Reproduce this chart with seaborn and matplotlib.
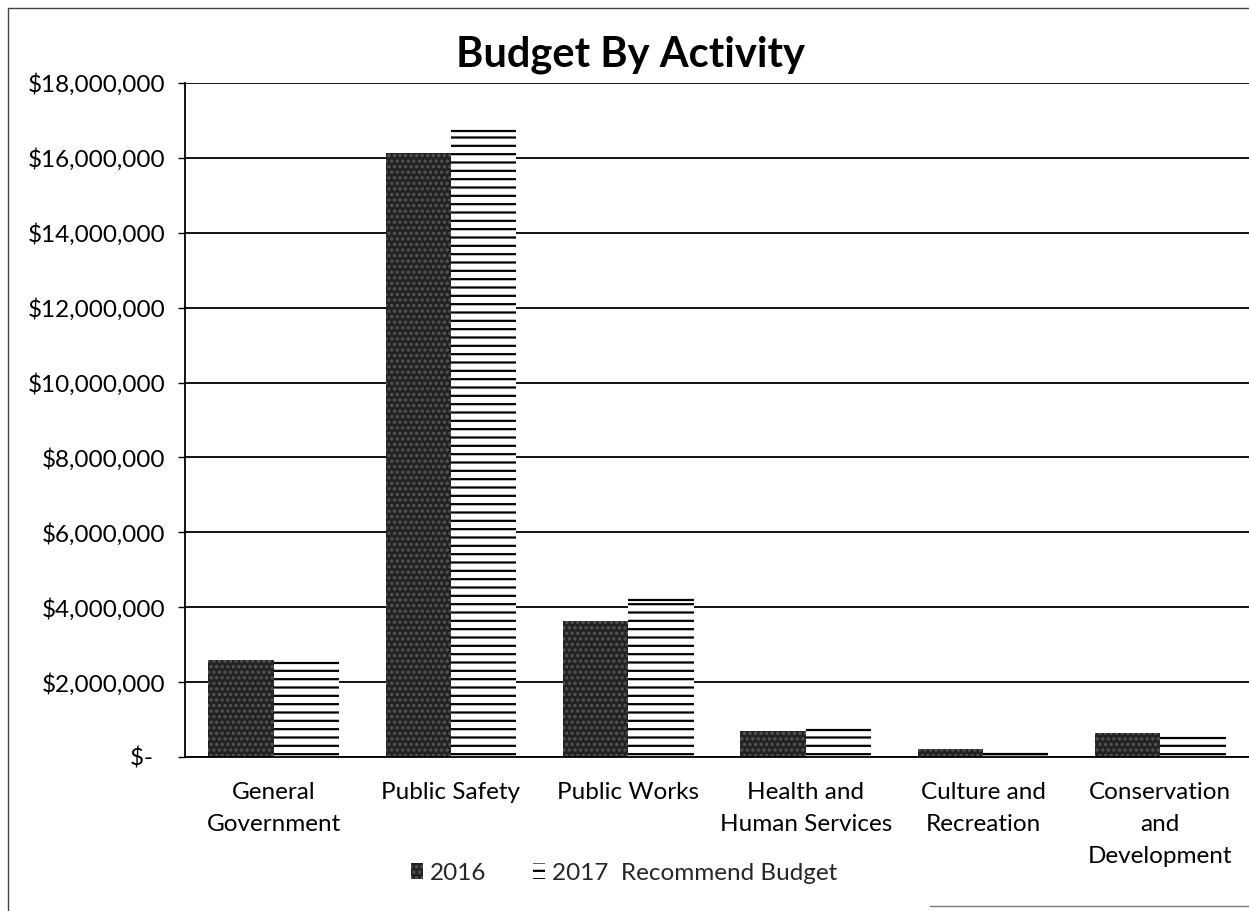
import matplotlib
matplotlib.use("Agg")
import matplotlib.pyplot as plt
from matplotlib.patches import Patch
from matplotlib.lines import Line2D
from matplotlib.ticker import FuncFormatter, MultipleLocator
import seaborn as sns
import pandas as pd

# Budget figures by activity (USD)
activities = [
    "General\nGovernment",
    "Public Safety",
    "Public Works",
    "Health and\nHuman Services",
    "Culture and\nRecreation",
    "Conservation\nand\nDevelopment",
]
budget_2016 = [2_590_000, 16_130_000, 3_630_000, 700_000, 220_000, 640_000]
budget_2017 = [2_520_000, 16_720_000, 4_190_000, 720_000, 80_000, 520_000]
series_names = ["2016", "2017  Recommend Budget"]

df = pd.DataFrame({
    "activity": activities * 2,
    "budget": budget_2016 + budget_2017,
    "series": [series_names[0]] * len(activities) + [series_names[1]] * len(activities),
})

sns.set_theme(style="white")
plt.rcParams["font.family"] = ["Lato", "DejaVu Sans"]
plt.rcParams["hatch.linewidth"] = 1.6

fig = plt.figure(figsize=(12.49, 9.11), dpi=100)
ax = fig.add_axes([185 / 1249, 1 - 757 / 911, 1 - 185 / 1249, (757 - 83) / 911])

sns.barplot(data=df, x="activity", y="budget", hue="series",
            palette=["#222222", "white"], saturation=1, width=0.735,
            legend=False, ax=ax)

dark_fill = dict(facecolor="#222222", edgecolor="#555555", hatch="...", linewidth=0)
lined_fill = dict(facecolor="white", edgecolor="black", hatch="--", linewidth=0)
for bar in ax.containers[0]:
    bar.set(**dark_fill)
for bar in ax.containers[1]:
    bar.set(**lined_fill)
    # cap each striped bar with a line at its value
    ax.plot([bar.get_x(), bar.get_x() + bar.get_width()],
            [bar.get_height(), bar.get_height()], color="black", linewidth=1.6,
            solid_capstyle="butt", zorder=bar.get_zorder() + 0.1)

ax.set_xlim(-0.5, 5.5)
ax.set_ylim(0, 18_000_000)
ax.yaxis.set_major_locator(MultipleLocator(2_000_000))
ax.yaxis.set_major_formatter(FuncFormatter(lambda v, _: "$-  " if v == 0 else f"${v:,.0f}"))
ax.grid(axis="y", color="black", linewidth=1.3)
ax.set_axisbelow(True)

for side in ["top", "right"]:
    ax.spines[side].set_visible(False)
for side in ["left", "bottom"]:
    ax.spines[side].set_color("black")
    ax.spines[side].set_linewidth(1.3)

ax.tick_params(axis="y", left=True, length=5, width=1, color="black", pad=9,
               labelsize=17.5, labelcolor="black")
ax.tick_params(axis="x", bottom=False, pad=12, labelsize=17.5, labelcolor="black")
for lbl in ax.get_xticklabels():
    lbl.set_linespacing(1.65)
ax.set_xlabel("")
ax.set_ylabel("")

fig.text(630 / 1249, 1 - 67 / 911, "Budget By Activity", ha="center", va="baseline",
         fontsize=30, fontweight="bold", color="black")

handles = [Patch(**dark_fill, label=series_names[0]),
           Patch(**lined_fill, label=series_names[1])]
fig.legend(handles=handles, loc="center", bbox_to_anchor=(624 / 1249, 1 - 873 / 911),
           ncol=2, frameon=False, fontsize=17.5, handlelength=0.5, handleheight=0.62,
           handletextpad=0.3, columnspacing=1.9)

# Chart frame
fig.add_artist(Line2D([8 / 1249, 8 / 1249], [0, 1 - 8 / 911], color="#444444", linewidth=1))
fig.add_artist(Line2D([8 / 1249, 1], [1 - 8 / 911, 1 - 8 / 911], color="#444444", linewidth=1))
fig.add_artist(Line2D([930 / 1249, 1], [1 - 906 / 911, 1 - 906 / 911], color="#777777", linewidth=1))

fig.savefig("out.png", dpi=100, facecolor="white")
